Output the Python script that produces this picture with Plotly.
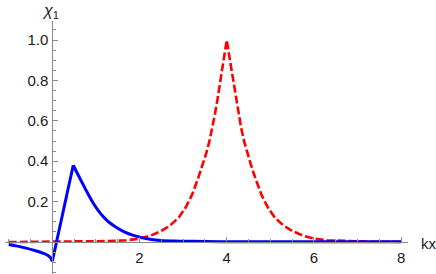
import plotly.graph_objects as go

# ---- data ----
# blue curve, three pieces (left branch, straight rise, decaying tail)
blue_left_x = [-1.0, -0.8, -0.6, -0.4, -0.2, -0.1, -0.05, 0.0]
blue_left_y = [-0.012, -0.02, -0.03, -0.042, -0.056, -0.066, -0.075, -0.095]
blue_rise_x = [0.0, 0.48]
blue_rise_y = [-0.095, 0.38]
blue_tail_x = [0.48, 0.59, 0.71, 0.82, 0.94, 1.05, 1.17, 1.3, 1.48, 1.65, 1.86, 2.05,
               2.24, 2.5, 2.8, 3.2, 4.0, 5.0, 6.5, 8.0]
blue_tail_y = [0.38, 0.333, 0.283, 0.238, 0.192, 0.157, 0.125, 0.098, 0.071, 0.051, 0.033,
               0.022, 0.014, 0.008, 0.005, 0.0035, 0.002, 0.0015, 0.001, 0.001]

red_x = [-1.0, 0.0, 0.8, 1.3, 1.7, 2.0, 2.25, 2.5, 2.7, 2.9, 3.05, 3.2, 3.35, 3.45, 3.53,
         3.6, 3.67, 3.73, 3.79, 3.85, 3.9, 3.95, 4.0,
         4.05, 4.1, 4.15, 4.21, 4.27, 4.33, 4.4, 4.47, 4.55, 4.65, 4.8, 4.95, 5.1, 5.3,
         5.5, 5.75, 6.0, 6.3, 6.7, 7.2, 8.0]
red_y = [0.0, 0.001, 0.002, 0.005, 0.009, 0.017, 0.032, 0.055, 0.082, 0.122, 0.168, 0.232,
         0.32, 0.385, 0.44, 0.497, 0.565, 0.635, 0.71, 0.792, 0.862, 0.93, 1.0,
         0.93, 0.862, 0.792, 0.71, 0.635, 0.565, 0.497, 0.44, 0.385, 0.32, 0.232, 0.168,
         0.122, 0.082, 0.055, 0.032, 0.017, 0.009, 0.005, 0.002, 0.001]

x_major = [2, 4, 6, 8]
x_major_labels = ["2", "4", "6", "8"]
y_major = [0.2, 0.4, 0.6, 0.8, 1.0]
y_major_labels = ["0.2", "0.4", "0.6", "0.8", "1.0"]

x_minor = [v / 2 for v in range(-2, 17) if (v / 2) not in x_major]
y_minor = [round(v * 0.05, 2) for v in range(-3, 22)
           if round(v * 0.05, 2) not in y_major]

W, H = 436, 274
ml, mr, mt, mb = 5, 28, 21, 0
x_range = [-1.085, 8.156]
y_range = [-0.158, 1.094]

def frac_x(v):
    return (v - x_range[0]) / (x_range[1] - x_range[0])

def frac_y(v):
    return (v - y_range[0]) / (y_range[1] - y_range[0])

axis_col = "#8a8a8a"
font_fam = "Liberation Sans, Arial, sans-serif"
txt_col = "#1a1a1a"

fig = go.Figure()
fig.add_trace(go.Scatter(x=red_x, y=red_y, mode="lines", line_shape="linear",
                         line=dict(color="#ff0000", width=2.6, dash="8px,3px"),
                         showlegend=False, hoverinfo="skip"))
for bx, by, shape in [(blue_left_x, blue_left_y, "spline"),
                      (blue_rise_x, blue_rise_y, "linear"),
                      (blue_tail_x, blue_tail_y, "spline")]:
    fig.add_trace(go.Scatter(x=bx, y=by, mode="lines", line_shape=shape,
                             line=dict(color="#0000ff", width=3),
                             showlegend=False, hoverinfo="skip"))

fig.update_layout(
    width=W, height=H,
    margin=dict(l=ml, r=mr, t=mt, b=mb, autoexpand=False),
    paper_bgcolor="white", plot_bgcolor="white",
    font=dict(family=font_fam, size=15, color=txt_col),
    xaxis=dict(range=x_range, anchor="free", position=frac_y(0), automargin=False,
               showline=True, linecolor=axis_col, linewidth=1,
               showgrid=False, zeroline=False,
               tickmode="array", tickvals=x_major, ticktext=x_major_labels,
               ticks="inside", ticklen=5, tickcolor=axis_col, tickwidth=1,
               minor=dict(tickmode="array", tickvals=x_minor, ticks="inside",
                          ticklen=3, tickcolor=axis_col, tickwidth=1, showgrid=False),
               ticklabelstandoff=2),
    yaxis=dict(range=y_range, anchor="free", position=frac_x(0), automargin=False,
               showline=True, linecolor=axis_col, linewidth=1,
               showgrid=False, zeroline=False,
               tickmode="array", tickvals=y_major, ticktext=y_major_labels,
               ticks="inside", ticklen=5, tickcolor=axis_col, tickwidth=1,
               minor=dict(tickmode="array", tickvals=y_minor, ticks="inside",
                          ticklen=3, tickcolor=axis_col, tickwidth=1, showgrid=False),
               ticklabelstandoff=1),
    annotations=[
        dict(text="<i>χ</i><sub>1</sub>", xref="paper", yref="paper",
             x=(50.8 - ml) / (W - ml - mr), y=(H - 11 - mb) / (H - mt - mb),
             xanchor="center", yanchor="middle", showarrow=False,
             font=dict(family=font_fam, size=16, color=txt_col)),
        dict(text="kx", xref="paper", yref="paper",
             x=(419 - ml) / (W - ml - mr), y=(H - 243 - mb) / (H - mt - mb),
             xanchor="left", yanchor="middle", showarrow=False,
             font=dict(family=font_fam, size=15, color=txt_col)),
    ],
)

fig.write_html(
    "out.html",
    config={"displayModeBar": False},
    post_script=(
        "document.body.style.margin='0';document.body.style.padding='0';"
        "document.querySelectorAll('.scatterlayer path.js-line').forEach("
        "function(p){p.style.strokeMiterlimit='12';});"
    ),
)
